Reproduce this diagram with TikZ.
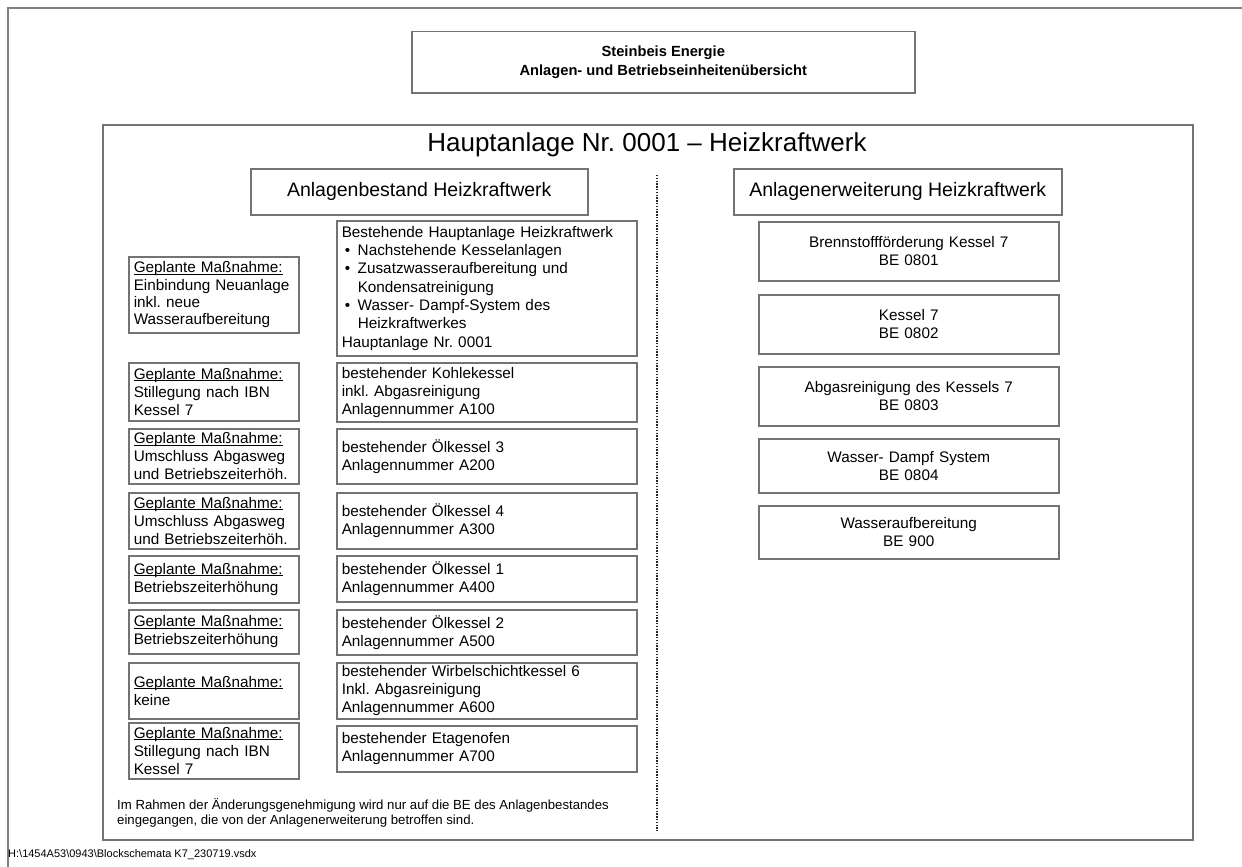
\documentclass[tikz,border=0pt]{standalone}
\usepackage{fontspec}
\setmainfont{Liberation Sans}
\frenchspacing
\newcommand\ulmark[1]{\setbox0\hbox{#1}\rlap{\rule[-2pt]{\wd0}{0.9pt}}\box0}
\begin{document}
\begin{tikzpicture}[x=1pt,y=-1pt,
  frameline/.style={draw=black!50, line width=1.3pt},
  box/.style={draw=black!55, line width=1.5pt, inner xsep=5pt, inner ysep=0pt, anchor=north west, text=black},
  body/.style={font=\fontsize{15.3}{18}\selectfont},
  lbox/.style={box, body, minimum width=170pt, text width=160pt, align=left},
  rbox/.style={box, body, minimum width=300pt, text width=290pt, align=left},
  ebox/.style={box, body, minimum width=300pt, text width=290pt, align=center},
  hbox/.style={box, font=\fontsize{19.5}{22}\selectfont, align=center},
  sep/.style={draw=black!85, line width=1.3pt, dash pattern=on 1.3pt off 1.5pt}
]
\useasboundingbox (0,0) rectangle (1242,867);
% outer page frame
\coordinate (pfTL) at (8,8);
\coordinate (pfTR) at (1242,8);
\coordinate (pfBL) at (8,867);
\draw[frameline] (pfBL) -- (pfTL) -- (pfTR);

% title box
\node[box, minimum width=503pt, minimum height=61pt, align=center,
      font=\bfseries\fontsize{14.7}{19}\selectfont] (title) at (411,31)
  {Steinbeis Energie\\Anlagen- und Betriebseinheiten\"ubersicht};

% main box
\node[box, minimum width=1090pt, minimum height=715pt] (main) at (102,124) {};
\node[font=\fontsize{26}{30}\selectfont, text=black] (maintitle) at (647,145)
  {Hauptanlage Nr. 0001 -- Heizkraftwerk};

% headers
\node[hbox, minimum width=337pt, minimum height=46pt] (hbest) at (250,168) {Anlagenbestand Heizkraftwerk};
\node[hbox, minimum width=328pt, minimum height=46pt] (herw) at (733,168) {Anlagenerweiterung Heizkraftwerk};

% separator
\coordinate (sepT) at (657,175);
\coordinate (sepB) at (657,831);
\draw[sep] (sepT) -- (sepB);

% left planned measures
\node[lbox, minimum height=76pt, font=\fontsize{15.3}{17.3}\selectfont] (g1) at (128,256)
  {\ulmark{Geplante Ma\ss nahme:}\\Einbindung Neuanlage\\inkl. neue\\Wasseraufbereitung};
\node[lbox, minimum height=58pt] (g2) at (128,362)
  {\ulmark{Geplante Ma\ss nahme:}\\Stillegung nach IBN\\Kessel 7};
\node[lbox, minimum height=55pt] (g3) at (128,428)
  {\ulmark{Geplante Ma\ss nahme:}\\Umschluss Abgasweg\\und Betriebszeiterh\"oh.};
\node[lbox, minimum height=56pt] (g4) at (128,492)
  {\ulmark{Geplante Ma\ss nahme:}\\Umschluss Abgasweg\\und Betriebszeiterh\"oh.};
\node[lbox, minimum height=47pt] (g5) at (128,555)
  {\ulmark{Geplante Ma\ss nahme:}\\Betriebszeiterh\"ohung};
\node[lbox, minimum height=44pt] (g6) at (128,609)
  {\ulmark{Geplante Ma\ss nahme:}\\Betriebszeiterh\"ohung};
\node[lbox, minimum height=56pt] (g7) at (128,662)
  {\ulmark{Geplante Ma\ss nahme:}\\keine};
\node[lbox, minimum height=56pt] (g8) at (128,722)
  {\ulmark{Geplante Ma\ss nahme:}\\Stillegung nach IBN\\Kessel 7};

% existing plants
\node[rbox, minimum height=135pt, font=\fontsize{15.3}{18.3}\selectfont] (b0) at (336,220)
  {Bestehende Hauptanlage Heizkraftwerk\\
   \hspace*{3pt}\makebox[13pt][l]{\textbullet}Nachstehende Kesselanlagen\\
   \hspace*{3pt}\makebox[13pt][l]{\textbullet}Zusatzwasseraufbereitung und\\
   \hspace*{16pt}Kondensatreinigung\\
   \hspace*{3pt}\makebox[13pt][l]{\textbullet}Wasser- Dampf-System des\\
   \hspace*{16pt}Heizkraftwerkes\\
   Hauptanlage Nr. 0001};
\node[rbox, minimum height=59pt] (b1) at (336,362)
  {bestehender Kohlekessel\\inkl. Abgasreinigung\\Anlagennummer A100};
\node[rbox, minimum height=55pt] (b2) at (336,428)
  {bestehender \"Olkessel 3\\Anlagennummer A200};
\node[rbox, minimum height=56pt] (b3) at (336,492)
  {bestehender \"Olkessel 4\\Anlagennummer A300};
\node[rbox, minimum height=46pt] (b4) at (336,555)
  {bestehender \"Olkessel 1\\Anlagennummer A400};
\node[rbox, minimum height=45pt] (b5) at (336,609)
  {bestehender \"Olkessel 2\\Anlagennummer A500};
\node[rbox, minimum height=56pt] (b6) at (336,662)
  {bestehender Wirbelschichtkessel 6\\Inkl. Abgasreinigung\\Anlagennummer A600};
\node[rbox, minimum height=46pt] (b7) at (336,725)
  {bestehender Etagenofen\\Anlagennummer A700};

% extension units
\node[ebox, minimum height=59pt] (e1) at (758,221) {Brennstofff\"orderung Kessel 7\\BE 0801};
\node[ebox, minimum height=59pt] (e2) at (758,294) {Kessel 7\\BE 0802};
\node[ebox, minimum height=59pt] (e3) at (758,366) {Abgasreinigung des Kessels 7\\BE 0803};
\node[ebox, minimum height=54pt] (e4) at (758,438) {Wasser- Dampf System\\BE 0804};
\node[ebox, minimum height=53pt] (e5) at (758,505) {Wasseraufbereitung\\BE 900};

% note
\node[anchor=north west, inner sep=0pt, align=left, text=black,
      font=\fontsize{13.2}{15}\selectfont] (note) at (117,798)
  {Im Rahmen der \"Anderungsgenehmigung wird nur auf die BE des Anlagenbestandes\\
   eingegangen, die von der Anlagenerweiterung betroffen sind.};

% footer
\node[anchor=west, inner sep=0pt, text=black, font=\fontsize{11}{13}\selectfont] (footer) at (8,855)
  {H:\textbackslash 1454A53\textbackslash 0943\textbackslash Blockschemata K7\_230719.vsdx};
\end{tikzpicture}
\end{document}
